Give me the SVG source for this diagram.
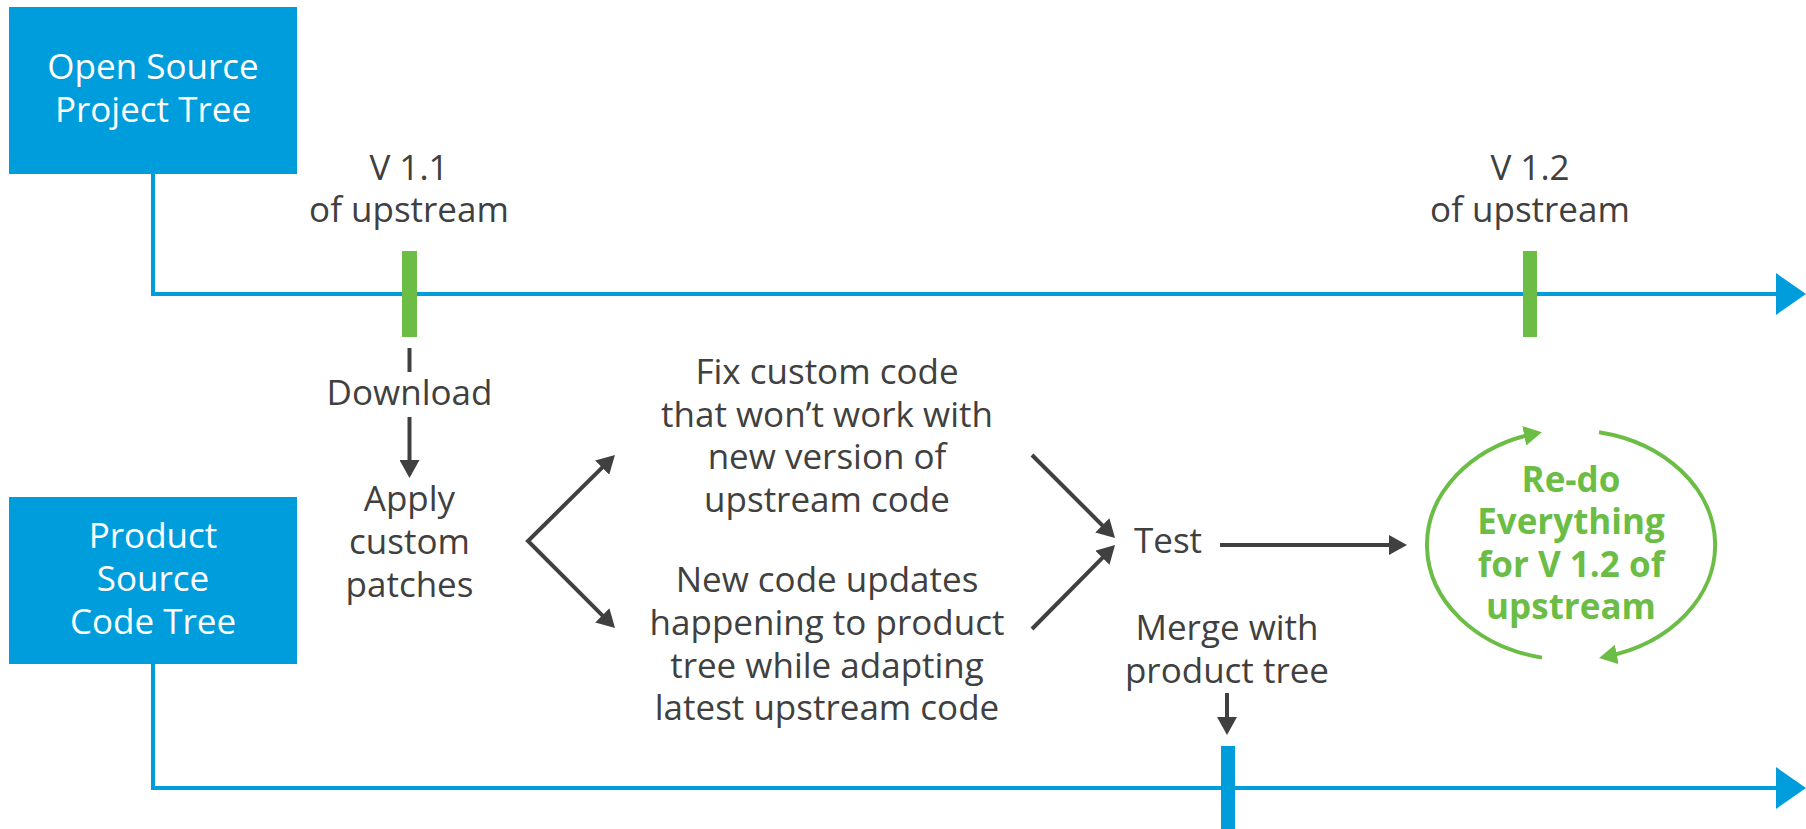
<svg xmlns="http://www.w3.org/2000/svg" width="1806" height="829" viewBox="0 0 1806 829">
<style>
.box{fill:#009DDC}
.wt{fill:#ffffff;font-family:"Open Sans","Liberation Sans",sans-serif;font-size:35px;text-anchor:middle}
.gt{fill:#404040;font-family:"Open Sans","Liberation Sans",sans-serif;font-size:35px;text-anchor:middle}
.grt{fill:#6BBD45;font-family:"Open Sans","Liberation Sans",sans-serif;font-size:35px;font-weight:bold;text-anchor:middle}
.bl{fill:none;stroke:#009DDC;stroke-width:4}
.dk{fill:none;stroke:#404040;stroke-width:4}
.gr{fill:none;stroke:#6BBD45;stroke-width:4}
</style>
<defs>
<marker id="ad" markerUnits="userSpaceOnUse" markerWidth="18" markerHeight="20" refX="12" refY="10" orient="auto-start-reverse" viewBox="0 0 18 20">
<path d="M0,0 L18,10 L0,20 z" fill="#404040"/>
</marker>
<marker id="ag" markerUnits="userSpaceOnUse" markerWidth="18" markerHeight="20" refX="12" refY="10" orient="auto" viewBox="0 0 18 20">
<path d="M0,0 L18,10 L0,20 z" fill="#6BBD45"/>
</marker>
</defs>
<rect width="1806" height="829" fill="#ffffff"/>

<g id="connectors">
<path class="bl" d="M153,174 V294 H1778"/>
<polygon points="1776,273 1806,294 1776,315" fill="#009DDC"/>
<path class="bl" d="M153,664 V788 H1778"/>
<polygon points="1776,767 1806,788 1776,809" fill="#009DDC"/>
<line class="dk" x1="409.5" y1="348" x2="409.5" y2="372" stroke-width="5"/>
<line class="dk" x1="409.5" y1="417" x2="409.5" y2="472" marker-end="url(#ad)"/>
<path class="dk" d="M610.7,459.2 L528,541 L610.8,623.8" marker-start="url(#ad)" marker-end="url(#ad)"/>
<line class="dk" x1="1032" y1="455" x2="1110.8" y2="533.8" marker-end="url(#ad)"/>
<line class="dk" x1="1032" y1="629" x2="1110.8" y2="549.3" marker-end="url(#ad)"/>
<line class="dk" x1="1220" y1="545" x2="1401" y2="545" marker-end="url(#ad)"/>
<line class="dk" x1="1227" y1="693" x2="1227" y2="729" marker-end="url(#ad)"/>
<path class="gr" d="M1542,657.6 A144,115 0 0 1 1536,433.4" marker-end="url(#ag)"/>
<path class="gr" d="M1599,432.2 A144,115 0 0 1 1605,656.8" marker-end="url(#ag)"/>
</g>

<g id="open-source-box">
<rect class="box" x="9" y="7" width="288" height="167"/>
<text class="wt" x="153" y="79">Open Source</text>
<text class="wt" x="153" y="122">Project Tree</text>
</g>

<g id="product-box">
<rect class="box" x="9" y="497" width="288" height="167"/>
<text class="wt" x="153" y="548">Product</text>
<text class="wt" x="153" y="591">Source</text>
<text class="wt" x="153" y="634">Code Tree</text>
</g>

<g id="v11">
<text class="gt" x="409" y="180">V 1.1</text>
<text class="gt" x="409" y="222">of upstream</text>
<rect x="402" y="251" width="15" height="86" fill="#6BBD45"/>
</g>

<g id="v12">
<text class="gt" x="1530" y="180">V 1.2</text>
<text class="gt" x="1530" y="222">of upstream</text>
<rect x="1523" y="251" width="14" height="86" fill="#6BBD45"/>
</g>

<g id="download">
<text class="gt" x="409.5" y="405">Download</text>
</g>

<g id="apply">
<text class="gt" x="409.5" y="511">Apply</text>
<text class="gt" x="409.5" y="554">custom</text>
<text class="gt" x="409.5" y="597">patches</text>
</g>

<g id="fix">
<text class="gt" x="827" y="384">Fix custom code</text>
<text class="gt" x="827" y="427">that won’t work with</text>
<text class="gt" x="827" y="469">new version of</text>
<text class="gt" x="827" y="512">upstream code</text>
</g>

<g id="newcode">
<text class="gt" x="827" y="592">New code updates</text>
<text class="gt" x="827" y="635">happening to product</text>
<text class="gt" x="827" y="678">tree while adapting</text>
<text class="gt" x="827" y="720">latest upstream code</text>
</g>

<g id="test">
<text class="gt" x="1168" y="553">Test</text>
</g>

<g id="merge">
<text class="gt" x="1227" y="640">Merge with</text>
<text class="gt" x="1227" y="683">product tree</text>
<rect x="1221" y="746" width="14" height="83" fill="#009DDC"/>
</g>

<g id="redo">
<text class="grt" x="1571" y="492">Re-do</text>
<text class="grt" x="1571" y="534">Everything</text>
<text class="grt" x="1571" y="577">for V 1.2 of</text>
<text class="grt" x="1571" y="619">upstream</text>
</g>
</svg>
